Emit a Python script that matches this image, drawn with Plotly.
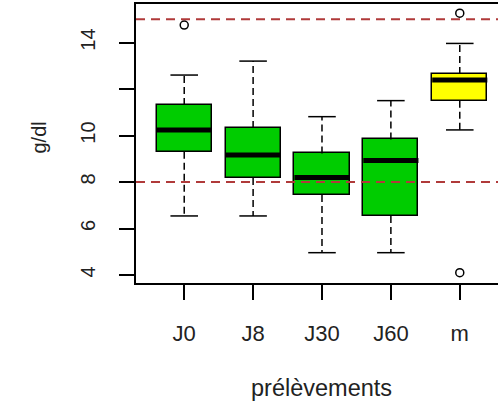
import plotly.graph_objects as go

# ---- data ----
categories = ["J0", "J8", "J30", "J60", "m"]
q1 = [9.30, 8.17, 7.44, 6.54, 11.50]
median = [10.24, 9.16, 8.19, 8.92, 12.39]
q3 = [11.31, 10.32, 9.23, 9.83, 12.65]
whisker_low = [6.54, 6.54, 4.96, 4.96, 10.24]
whisker_high = [12.60, 13.20, 10.81, 11.50, 13.96]
outlier_cat = ["J0", "m", "m"]
outlier_val = [14.75, 15.26, 4.10]
box_colors = ["#00CC00", "#00CC00", "#00CC00", "#00CC00", "#FFFF00"]
ref_lines = [8, 15]
y_tickvals = [4, 6, 8, 10, 12, 14]
y_ticktext = ["4", "6", "8", "10", "", "14"]

pos = list(range(1, len(categories) + 1))
cat_pos = {c: p for c, p in zip(categories, pos)}
BOXW = 0.8
CAPW = 0.4

fig = go.Figure()

# whiskers (dashed)
wx, wy = [], []
for p, lo, hi, a, b in zip(pos, whisker_low, whisker_high, q1, q3):
    wx += [p, p, None, p, p, None]
    wy += [b, hi, None, a, lo, None]
fig.add_trace(go.Scatter(x=wx, y=wy, mode="lines",
                         line=dict(color="black", width=1.5, dash="7px,4px"),
                         hoverinfo="skip", showlegend=False))

# caps
cx, cy = [], []
for p, lo, hi in zip(pos, whisker_low, whisker_high):
    cx += [p - CAPW / 2, p + CAPW / 2, None, p - CAPW / 2, p + CAPW / 2, None]
    cy += [hi, hi, None, lo, lo, None]
fig.add_trace(go.Scatter(x=cx, y=cy, mode="lines",
                         line=dict(color="black", width=1.5),
                         hoverinfo="skip", showlegend=False))

# boxes
fig.add_trace(go.Bar(x=pos, base=q1, y=[b - a for a, b in zip(q1, q3)],
                     width=BOXW, marker=dict(color=box_colors,
                                             line=dict(color="black", width=1.5)),
                     showlegend=False))

# medians
mx, my = [], []
for p, m in zip(pos, median):
    mx += [p - BOXW / 2, p + BOXW / 2, None]
    my += [m, m, None]
fig.add_trace(go.Scatter(x=mx, y=my, mode="lines",
                         line=dict(color="black", width=5),
                         hoverinfo="skip", showlegend=False))

# reference lines
for r in ref_lines:
    fig.add_shape(type="line", xref="paper", x0=0, x1=1, yref="y", y0=r, y1=r,
                  line=dict(color="#b03a3a", width=1.8, dash="9px,6px"))

# outliers
fig.add_trace(go.Scatter(x=[cat_pos[c] for c in outlier_cat], y=outlier_val,
                         mode="markers",
                         marker=dict(symbol="circle-open", size=8, color="black",
                                     line=dict(width=1.5)),
                         showlegend=False))

font_h = dict(family="Liberation Sans, Arial, sans-serif", size=22, color="#222")
font_t = dict(family="Liberation Sans, Arial, sans-serif", size=23.5, color="#222")
font_v = dict(family="Liberation Sans, Arial, sans-serif", size=20, color="#222")

fig.update_layout(
    width=498, height=413,
    margin=dict(l=136, r=0, t=4, b=130, pad=0),
    plot_bgcolor="white", paper_bgcolor="white",
    bargap=0,
    xaxis=dict(range=[0.3, 5.555], tickmode="array", tickvals=pos, ticktext=categories,
               ticks="outside", ticklen=15, tickwidth=1.5, tickcolor="black",
               showline=True, linecolor="black", linewidth=1.5, mirror=True,
               showgrid=False, zeroline=False, tickfont=font_h,
               ticklabelstandoff=15),
    yaxis=dict(range=[3.656, 15.656], tickmode="array", tickvals=y_tickvals,
               ticktext=y_ticktext, tickangle=-90,
               ticks="outside", ticklen=15, tickwidth=1.5, tickcolor="black",
               showline=True, linecolor="black", linewidth=1.5, mirror=False,
               showgrid=False, zeroline=False, tickfont=font_v,
               ticklabelstandoff=16),
    annotations=[
        dict(text="prélèvements", xref="x", x=3.0, yref="paper", y=-(388 - 283) / 279,
             xanchor="center", yanchor="middle", showarrow=False, font=font_t),
        dict(text="g/dl", xref="paper", x=(38 - 136) / 362, yref="paper",
             y=(283 - 137.5) / 279, textangle=-90,
             xanchor="center", yanchor="middle", showarrow=False, font=font_v),
    ],
)

fig.write_html("out.html")
